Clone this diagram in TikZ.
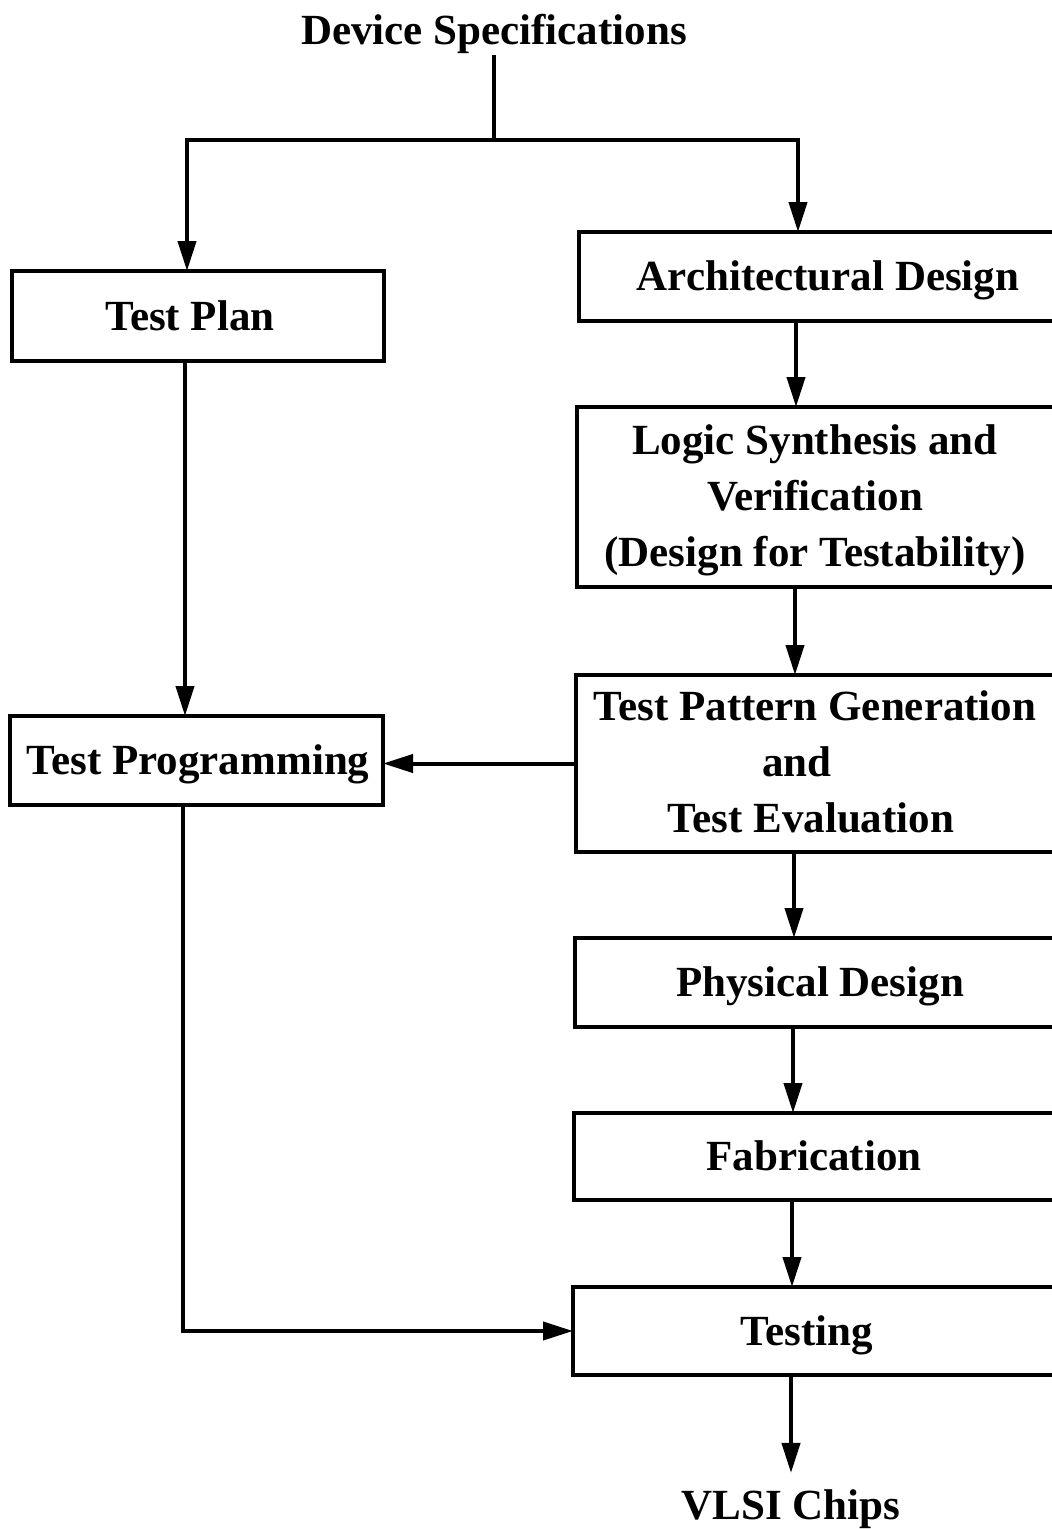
\documentclass[tikz,border=0pt]{standalone}
\usepackage{fontspec}
\setmainfont{Liberation Serif}
\usetikzlibrary{arrows.meta}
\begin{document}
\begin{tikzpicture}[x=1pt,y=-1pt,
  box/.style={draw, line width=4.4pt, inner sep=0pt, outer sep=0pt, anchor=north west},
  lbl/.style={font=\fontsize{43}{56}\selectfont\bfseries, inner sep=0pt, align=center},
  wire/.style={line width=4pt},
  flow/.style={line width=4pt, -{Triangle[length=30pt,width=18pt]}}]
\useasboundingbox (0,0) rectangle (1052,1529);

% boxes (the right-hand column runs past the page edge)
\node[box, minimum width=372pt, minimum height=90pt] (plan)  at (12,271) {};
\node[box, minimum width=373pt, minimum height=89pt] (prog)  at (10,716) {};
\node[box, minimum width=496pt, minimum height=89pt] (arch)  at (579,232) {};
\node[box, minimum width=498pt, minimum height=180pt] (logic) at (577,407) {};
\node[box, minimum width=499pt, minimum height=177pt] (tpg)   at (576,675) {};
\node[box, minimum width=500pt, minimum height=89pt] (phys)  at (575,938) {};
\node[box, minimum width=501pt, minimum height=87pt] (fab)   at (574,1113) {};
\node[box, minimum width=502pt, minimum height=88pt] (test)  at (573,1287) {};

% texts
\node[lbl, anchor=base, inner ysep=2pt] (spec) at (494,44) {Device Specifications};
\node[lbl, anchor=base, inner ysep=16pt] (chips) at (791,1519) {VLSI Chips};
\node[lbl, anchor=base] (planT)  at (190,330) {Test Plan};
\node[lbl, anchor=base] (progT)  at (198,774) {Test Programming};
\node[lbl, anchor=base] (archT)  at (828,290) {Architectural Design};
\node[lbl, anchor=center] (logicT) at (815,500) {Logic Synthesis and\\Verification\\(Design for Testability)};
\node[lbl, anchor=base] (tpgA)   at (815,720) {Test Pattern Generation};
\node[lbl, anchor=base] (tpgB)   at (797,776) {and};
\node[lbl, anchor=base] (tpgC)   at (811,832) {Test Evaluation};
\node[lbl, anchor=base] (physT)  at (820,996) {Physical Design};
\node[lbl, anchor=base] (fabT)   at (814,1170) {Fabrication};
\node[lbl, anchor=base] (testT)  at (807,1345) {Testing};

% split below the specifications
\coordinate (jn) at (494,140);
\draw[wire] (spec.south) -- (jn);
\draw[flow] (jn) -| ([xshift=175pt]plan.north west);
\draw[flow] (jn) -| ([xshift=219pt]arch.north west);

% design flow
\draw[flow] ([xshift=217pt]arch.south west)  -- ([xshift=219pt]logic.north west);
\draw[flow] ([xshift=218pt]logic.south west) -- ([xshift=219pt]tpg.north west);
\draw[flow] ([xshift=218pt]tpg.south west)   -- ([xshift=219pt]phys.north west);
\draw[flow] ([xshift=218pt]phys.south west)  -- ([xshift=219pt]fab.north west);
\draw[flow] ([xshift=218pt]fab.south west)   -- ([xshift=219pt]test.north west);
\draw[flow] ([xshift=218pt]test.south west)  -- (chips.north);

% test flow
\draw[flow] ([xshift=173pt]plan.south west) -- ([xshift=175pt]prog.north west);
\draw[flow] (tpg.west) -- (tpg.west -| prog.east);
\draw[flow] ([xshift=173pt]prog.south west) |- (test.west);
\end{tikzpicture}
\end{document}
